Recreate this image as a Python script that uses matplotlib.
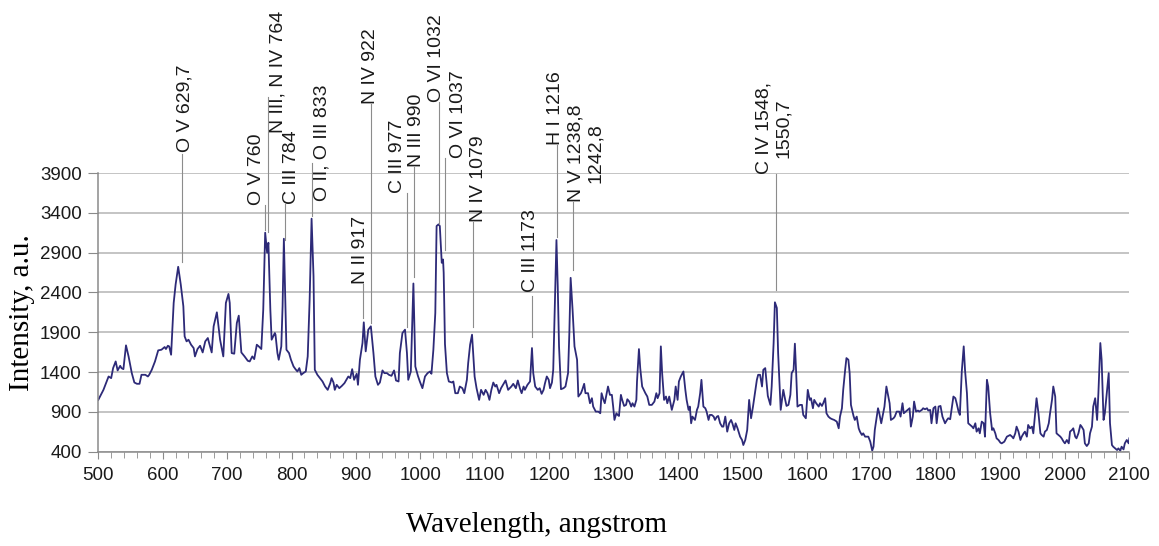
import matplotlib
matplotlib.use('Agg')
import matplotlib.pyplot as plt
import numpy as np

# spectrum (wavelength in angstrom, intensity in a.u.)
wavelength = [
    500, 508, 516, 520, 523, 527, 530, 534, 536, 539, 543, 547, 552, 556, 560, 564,
    567, 573, 577, 579, 583, 588, 593, 598, 603, 605, 608, 610, 613, 617, 620, 624,
    628, 632, 634, 637, 640, 644, 648, 650, 654, 658, 662, 666, 670, 672, 676, 679,
    684, 689, 694, 698, 702, 704, 707, 711, 715, 718, 722, 727, 732, 735, 739, 742,
    746, 749, 753, 756, 759, 762, 764, 767, 769, 774, 775, 778, 780, 784, 786, 788,
    790, 792, 796, 799, 803, 806, 809, 812, 815, 818, 822, 825, 828, 831, 834, 836,
    840, 844, 848, 852, 856, 860, 862, 865, 867, 870, 874, 878, 882, 885, 888, 891,
    894, 897, 901, 903, 906, 910, 912, 915, 919, 923, 927, 930, 934, 937, 941, 944,
    948, 951, 955, 959, 962, 966, 968, 972, 976, 979, 981, 985, 989, 992, 996, 999,
    1003, 1007, 1011, 1015, 1017, 1020, 1023, 1025, 1028, 1030, 1033, 1035, 1036,
    1038, 1041, 1044, 1049, 1051, 1054, 1058, 1061, 1065, 1068, 1072, 1074, 1077,
    1080, 1082, 1084, 1087, 1091, 1094, 1098, 1101, 1104, 1107, 1110, 1113, 1116,
    1118, 1122, 1125, 1129, 1132, 1136, 1141, 1144, 1148, 1151, 1155, 1157, 1160,
    1162, 1166, 1170, 1173, 1175, 1178, 1182, 1185, 1188, 1191, 1193, 1196, 1199,
    1201, 1204, 1206, 1209, 1211, 1213, 1215, 1218, 1222, 1225, 1229, 1231, 1233,
    1236, 1239, 1243, 1245, 1249, 1251, 1254, 1256, 1260, 1263, 1266, 1268, 1272,
    1276, 1279, 1281, 1284, 1286, 1291, 1294, 1297, 1299, 1301, 1304, 1306, 1308,
    1311, 1313, 1316, 1319, 1321, 1324, 1327, 1329, 1332, 1335, 1336, 1339, 1341,
    1344, 1349, 1352, 1355, 1359, 1363, 1366, 1368, 1371, 1373, 1375, 1378, 1381,
    1383, 1386, 1388, 1390, 1394, 1396, 1399, 1401, 1404, 1408, 1411, 1413, 1416,
    1418, 1420, 1422, 1426, 1429, 1431, 1434, 1436, 1439, 1442, 1444, 1447, 1449,
    1452, 1455, 1457, 1460, 1462, 1465, 1468, 1470, 1473, 1476, 1479, 1482, 1484,
    1487, 1489, 1492, 1496, 1499, 1501, 1504, 1507, 1510, 1513, 1516, 1519, 1522,
    1524, 1527, 1530, 1532, 1535, 1539, 1543, 1545, 1548, 1550, 1553, 1555, 1559,
    1563, 1566, 1568, 1571, 1574, 1576, 1579, 1581, 1583, 1585, 1589, 1592, 1594,
    1598, 1601, 1604, 1606, 1609, 1611, 1614, 1618, 1620, 1623, 1625, 1628, 1630,
    1633, 1636, 1639, 1642, 1646, 1649, 1651, 1654, 1656, 1659, 1661, 1664, 1666,
    1668, 1672, 1674, 1677, 1680, 1682, 1685, 1687, 1690, 1693, 1695, 1698, 1701,
    1703, 1705, 1710, 1712, 1715, 1717, 1720, 1723, 1725, 1728, 1730, 1734, 1736,
    1739, 1743, 1745, 1748, 1750, 1753, 1756, 1759, 1761, 1764, 1766, 1769, 1772,
    1774, 1778, 1780, 1783, 1786, 1788, 1791, 1793, 1796, 1799, 1801, 1804, 1807,
    1810, 1814, 1817, 1819, 1822, 1827, 1830, 1832, 1835, 1837, 1840, 1843, 1845,
    1848, 1850, 1853, 1856, 1858, 1861, 1863, 1866, 1868, 1871, 1874, 1876, 1879,
    1881, 1884, 1887, 1889, 1892, 1894, 1897, 1900, 1902, 1906, 1910, 1915, 1918,
    1920, 1923, 1925, 1928, 1931, 1933, 1936, 1938, 1941, 1943, 1946, 1949, 1951,
    1954, 1956, 1959, 1962, 1964, 1967, 1969, 1972, 1975, 1977, 1980, 1982, 1985,
    1987, 1990, 1993, 1995, 1998, 2000, 2003, 2006, 2008, 2011, 2013, 2016, 2018,
    2021, 2024, 2026, 2029, 2031, 2034, 2037, 2039, 2042, 2044, 2047, 2050, 2052,
    2055, 2057, 2060, 2062, 2065, 2068, 2070, 2073, 2075, 2078, 2081, 2083, 2086,
    2088, 2091, 2093, 2096, 2099, 2100,
]
intensity = [
    1051, 1177, 1345, 1324, 1450, 1534, 1421, 1479, 1450, 1437, 1736, 1597, 1387, 1269, 1253, 1253,
    1366, 1366, 1345, 1366, 1429, 1534, 1673, 1681, 1715, 1690, 1731, 1723, 1618, 2269, 2500, 2723,
    2500, 2227, 1849, 1786, 1807, 1744, 1702, 1597, 1690, 1731, 1647, 1786, 1828, 1765, 1647, 1975,
    2151, 1807, 1597, 2269, 2382, 2269, 1639, 1631, 2017, 2109, 1647, 1597, 1542, 1534, 1597, 1563,
    1744, 1723, 1690, 2185, 3151, 2899, 3025, 2185, 1807, 1891, 1870, 1639, 1555, 1723, 2227, 3075,
    2395, 1681, 1639, 1555, 1471, 1437, 1408, 1450, 1366, 1387, 1408, 1597, 2311, 3327, 2605, 1429,
    1366, 1324, 1282, 1219, 1177, 1261, 1324, 1269, 1177, 1240, 1198, 1227, 1261, 1303, 1345, 1324,
    1437, 1303, 1379, 1240, 1555, 1765, 2025, 1660, 1933, 1975, 1639, 1345, 1240, 1269, 1421, 1387,
    1387, 1366, 1353, 1421, 1295, 1282, 1639, 1891, 1933, 1639, 1303, 1408, 2513, 1471, 1353, 1282,
    1198, 1345, 1387, 1408, 1379, 1681, 2143, 3235, 3256, 3235, 2773, 2815, 2647,
    1752, 1387, 1282, 1269, 1282, 1135, 1135, 1219, 1198, 1135, 1303, 1513, 1744,
    1870, 1597, 1345, 1198, 1051, 1177, 1114, 1177, 1135, 1051, 1177, 1269, 1219,
    1240, 1135, 1198, 1253, 1295, 1177, 1219, 1253, 1198, 1295, 1177, 1135, 1219,
    1177, 1240, 1282, 1702, 1387, 1219, 1177, 1198, 1127, 1177, 1253, 1345, 1303,
    1198, 1269, 1429, 2395, 3059, 2479, 1723, 1185, 1198, 1219, 1387, 1891, 2584,
    2185, 1723, 1555, 1093, 1135, 1177, 1253, 1135, 1135, 1009, 1072, 967, 904,
    904, 883, 1135, 1051, 1009, 1219, 1114, 1114, 967, 799, 883, 862, 849,
    1114, 1051, 975, 988, 1059, 1030, 967, 1009, 967, 1051, 1282, 1689, 1450,
    1219, 1135, 1093, 988, 988, 1030, 1135, 1072, 1135, 1723, 1387, 1051, 1093,
    1009, 1093, 1009, 925, 1051, 1219, 1051, 1282, 1345, 1408, 1177, 1051, 925,
    967, 757, 841, 799, 925, 967, 1135, 1303, 967, 946, 904, 799, 862,
    862, 841, 799, 841, 849, 757, 715, 715, 841, 652, 757, 799, 757,
    673, 757, 694, 589, 547, 484, 547, 673, 1051, 820, 967, 1135, 1303,
    1366, 1366, 1219, 1429, 1450, 1101, 988, 1219, 1765, 2277, 2206, 1639, 925,
    1177, 1051, 975, 988, 1114, 1387, 1429, 1757, 1387, 967, 988, 988, 862,
    820, 1177, 1051, 1072, 946, 1051, 1009, 967, 1009, 975, 1009, 1072, 883,
    841, 820, 808, 799, 778, 694, 841, 946, 1177, 1429, 1576, 1555, 1387,
    988, 849, 799, 841, 694, 652, 610, 631, 589, 589, 589, 526, 413,
    463, 673, 946, 883, 757, 841, 967, 1219, 1135, 1009, 799, 820, 841,
    904, 904, 841, 1009, 883, 904, 925, 946, 715, 841, 1030, 904, 917,
    904, 925, 946, 933, 946, 917, 925, 757, 946, 967, 757, 967, 975,
    841, 757, 799, 820, 808, 1093, 1072, 1009, 904, 862, 1408, 1723, 1429,
    1135, 757, 736, 715, 694, 757, 652, 694, 631, 778, 757, 589, 1303,
    1219, 883, 673, 694, 631, 568, 547, 513, 505, 526, 589, 610, 589,
    568, 631, 715, 652, 547, 589, 631, 652, 589, 736, 694, 715, 631,
    904, 1072, 883, 631, 610, 589, 652, 673, 757, 883, 1051, 1219, 1093,
    631, 610, 589, 568, 526, 505, 547, 505, 652, 673, 694, 589, 568,
    631, 736, 715, 673, 505, 471, 505, 631, 715, 967, 1072, 799, 1135,
    1765, 1555, 799, 883, 1135, 1387, 757, 484, 463, 442, 421, 442, 413,
    463, 429, 505, 547, 505, 568,
]

# line labels and where their leader lines point
labels = ["O V 629,7", "O V 760", "N III, N IV 764", "C III 784", "O II, O III 833",
          "N II 917", "N IV 922", "C III 977", "N III 990", "O VI 1032", "O VI 1037",
          "N IV 1079", "C III 1173", "H I 1216", "N V 1238,8\n1242,8", "C IV 1548,\n1550,7"]

# text x, text bottom y, leader x, leader top y, leader bottom y
label_pos = [
    (634.6, 4164, 629.4, 4137, 2783),
    (746.3, 3499, 758.0, 3499, 3185),
    (778.9, 4403, 763.8, 4855, 3160),
    (800.6, 3511, 789.0, 3511, 3059),
    (846.4, 3549, 832.1, 4026, 3360),
    (906.2, 2506, 911.3, 2506, 2079),
    (921.7, 4767, 923.2, 4767, 2016),
    (965.1, 3649, 978.3, 3649, 1966),
    (994.2, 3976, 989.7, 3976, 2594),
    (1025.2, 4792, 1029.5, 4792, 3260),
    (1058.3, 4089, 1038.1, 4089, 2933),
    (1089.3, 3285, 1081.8, 3285, 1966),
    (1170.0, 2406, 1172.6, 2356, 1841),
    (1208.8, 4252, 1211.4, 4252, 3097),
    (1256.9, 3536, 1236.4, 3536, 2682),
    (1548.7, 3888, 1551.0, 3888, 2431),
]

assert len(wavelength) == len(intensity)

fig = plt.figure(figsize=(11.59, 5.46), dpi=100)
ax = fig.add_axes([0.0848, 0.1727, 0.8896, 0.5103])

ax.set_axisbelow(True)
ax.grid(which='major', axis='y', color='#b4b4b4', linewidth=1.1)

ax.plot(wavelength, intensity, color='#2d2a78', linewidth=1.3)

ax.set_xlim(500, 2100)
ax.set_ylim(400, 3900)
ax.set_xticks(np.arange(500, 2101, 100))
ax.set_xticks(np.arange(500, 2101, 20), minor=True)
ax.set_yticks(np.arange(400, 3901, 500))

for s in ['top', 'right']:
    ax.spines[s].set_visible(False)
for s in ['left', 'bottom']:
    ax.spines[s].set_color('#8a8a8a')
    ax.spines[s].set_linewidth(1.1)

ax.tick_params(axis='x', which='major', direction='out', length=5, color='#8a8a8a', pad=6)
ax.tick_params(axis='x', which='minor', direction='out', length=4, color='#8a8a8a')
ax.tick_params(axis='y', which='major', direction='out', length=7, color='#8a8a8a', pad=5)
for lab in ax.get_xticklabels() + ax.get_yticklabels():
    lab.set_fontfamily('Liberation Sans')
    lab.set_fontsize(13.5)
    lab.set_color('#1a1a1a')

ax.set_xlabel('Wavelength, angstrom', fontfamily='Liberation Serif', fontsize=21, va='center')
ax.xaxis.set_label_coords(0.4255, -0.262)
ax.set_ylabel('Intensity, a.u.', fontfamily='Liberation Serif', fontsize=21, va='center')
ax.yaxis.set_label_coords(-0.074, 0.5)

for text, (tx, ty, lx, ly1, ly2) in zip(labels, label_pos):
    ax.plot([lx, lx], [ly1, ly2], color='#8c8c8c', linewidth=0.8, clip_on=False)
    ax.text(tx, ty, text, rotation=90, ha='center', va='bottom', multialignment='center',
            fontfamily='Liberation Sans', fontsize=14, color='#1a1a1a', clip_on=False)

fig.savefig('out.png', dpi=100)
